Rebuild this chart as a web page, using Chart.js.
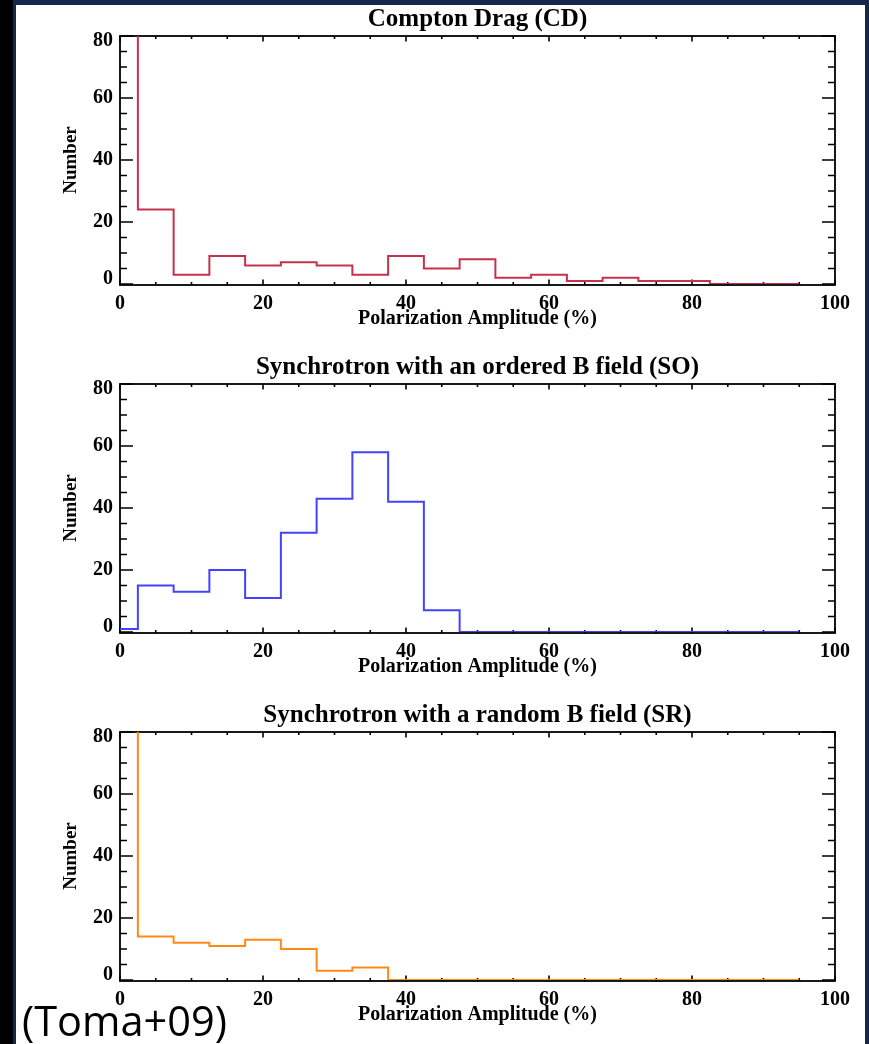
<!DOCTYPE html>
<html><head><meta charset="utf-8">
<script src="https://cdn.jsdelivr.net/npm/chart.js@4.4.0/dist/chart.umd.min.js"></script>
<style>
html,body{margin:0;padding:0;background:#000;}
#page{position:relative;width:869px;height:1044px;overflow:hidden;background:#000;}
#navyTop{position:absolute;left:13px;top:0;width:856px;height:5px;background:#14294a;}
#navyLeft{position:absolute;left:13px;top:0;width:3px;height:1044px;background:#14294a;}
#navyRight{position:absolute;left:865px;top:0;width:4px;height:1044px;background:#14294a;}
#white{position:absolute;left:16px;top:5px;width:849px;height:1039px;background:#fff;}
canvas{position:absolute;left:0;}
#cite{position:absolute;left:22px;top:1000px;font-family:'Open Sans',sans-serif;font-size:41.5px;line-height:40px;color:#000;white-space:nowrap;}
</style>
</head><body>
<div id="page">
  <div id="navyTop"></div><div id="navyLeft"></div><div id="navyRight"></div>
  <div id="white"></div>
  <canvas id="c1" width="869" height="348" style="top:0px"></canvas>
  <canvas id="c2" width="869" height="348" style="top:348px"></canvas>
  <canvas id="c3" width="869" height="348" style="top:696px"></canvas>
  <div id="cite">(Toma+09)</div>
</div>
<script>
// ---- data ----
const binCenters = [0, 5, 10, 15, 20, 25, 30, 35, 40, 45, 50, 55, 60, 65, 70, 75, 80, 85, 90, 95];
const countsCD = [100, 24, 3, 9, 6, 7, 6, 3, 9, 5, 8, 2, 3, 1, 2, 1, 1, 0, 0, 0];
const countsSO = [1, 15, 13, 20, 11, 32, 43, 58, 42, 7, 0, 0, 0, 0, 0, 0, 0, 0, 0, 0];
const countsSR = [100, 14, 12, 11, 13, 10, 3, 4, 0, 0, 0, 0, 0, 0, 0, 0, 0, 0, 0, 0];
const titles = ['Compton Drag (CD)', 'Synchrotron with an ordered B field (SO)', 'Synchrotron with a random B field (SR)'];
const xTitle = 'Polarization Amplitude (%)';
const yTitle = 'Number';
const xRange = [0, 100], yRange = [0, 80];
const xMajor = 20, xMinor = 5, yMajor = 20, yMinor = 5;
const colors = ['#c5324c', '#4343ff', '#ff8a16'];

const FONT = "'Liberation Serif','Times New Roman',serif";

const frameTicks = {
  id: 'frameTicks',
  beforeDatasetsDraw(chart) {
    const {ctx, chartArea: a, scales} = chart;
    const x = scales.x, y = scales.y;
    const bot = a.bottom + 1;
    ctx.save();
    ctx.strokeStyle = '#000';
    ctx.lineWidth = 1.6;
    ctx.beginPath();
    for (let v = xRange[0]; v <= xRange[1] + 1e-9; v += xMinor) {
      const px = x.getPixelForValue(v);
      const len = (Math.abs(v % xMajor) < 1e-9) ? 5.5 : 3;
      ctx.moveTo(px, bot); ctx.lineTo(px, bot - len);
      ctx.moveTo(px, a.top); ctx.lineTo(px, a.top + len);
    }
    for (let v = yRange[0]; v <= yRange[1] + 1e-9; v += yMinor) {
      const py = y.getPixelForValue(v);
      const len = (Math.abs(v % yMajor) < 1e-9) ? 13 : 7;
      ctx.moveTo(a.left, py); ctx.lineTo(a.left + len, py);
      ctx.moveTo(a.right, py); ctx.lineTo(a.right - len, py);
    }
    ctx.stroke();
    ctx.lineWidth = 1.8;
    ctx.strokeRect(a.left, a.top, a.right - a.left, bot - a.top);
    ctx.restore();
  }
};

// keep end labels of the y axis inside the frame (as IDL does)
function yLabel(value) {
  if (value === yRange[1]) return ['', String(value)];
  if (value === yRange[0]) return [String(value), ''];
  return String(value);
}
function yFont(ctx) {
  const v = ctx.tick ? ctx.tick.value : null;
  const edge = (v === yRange[0] || v === yRange[1]);
  return {family: FONT, size: 20, weight: 'bold', lineHeight: edge ? '10px' : 1.2};
}

function makeChart(id, title, counts, color) {
  const pts = binCenters.map((c, i) => ({x: c, y: counts[i]}));
  return new Chart(document.getElementById(id), {
    type: 'line',
    data: {datasets: [{
      data: pts, borderColor: color, borderWidth: 2, pointRadius: 0,
      stepped: 'middle', fill: false, tension: 0
    }]},
    options: {
      responsive: false, animation: false, devicePixelRatio: 1,
      layout: {padding: {left: 0, right: 34, top: 0, bottom: 0}},
      plugins: {
        legend: {display: false}, tooltip: {enabled: false},
        title: {display: true, text: title, color: '#000', fullSize: false,
          font: {family: FONT, size: 25, weight: 'bold', lineHeight: 1.2},
          padding: {top: 5, bottom: 1}}
      },
      scales: {
        x: {type: 'linear', min: xRange[0], max: xRange[1],
          grid: {display: false, drawTicks: false}, border: {display: false},
          ticks: {stepSize: xMajor, color: '#000', padding: 8, maxRotation: 0, autoSkip: false,
            font: {family: FONT, size: 20, weight: 'bold', lineHeight: 1.2}},
          title: {display: true, text: xTitle, color: '#000', padding: {top: 0, bottom: 17},
            font: {family: FONT, size: 20, weight: 'bold', lineHeight: 1.2}},
          afterFit(s) { s.height = 64; }
        },
        y: {type: 'linear', min: yRange[0], max: yRange[1],
          grid: {display: false, drawTicks: false}, border: {display: false},
          ticks: {stepSize: yMajor, color: '#000', padding: 7, callback: yLabel, font: yFont},
          title: {display: true, text: yTitle, color: '#000', padding: {top: 60, bottom: 0},
            font: {family: FONT, size: 19, weight: 'bold', lineHeight: 1.2}},
          afterFit(s) { s.width = 120; }
        }
      }
    },
    plugins: [frameTicks]
  });
}
makeChart('c1', titles[0], countsCD, colors[0]);
makeChart('c2', titles[1], countsSO, colors[1]);
makeChart('c3', titles[2], countsSR, colors[2]);
</script>
</body></html>
